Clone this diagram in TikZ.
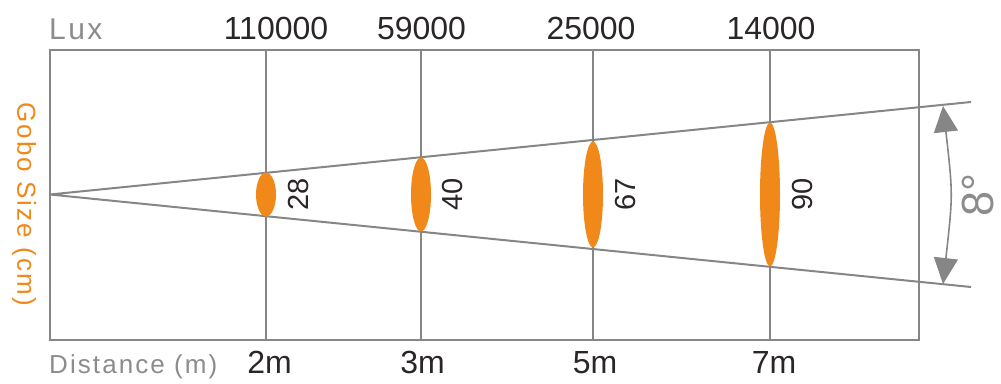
\documentclass[tikz,border=0pt]{standalone}
\usepackage{fontspec}
\setmainfont{Liberation Sans}
\newfontfamily\trackfont[LetterSpace=8]{Liberation Sans}
\usetikzlibrary{arrows.meta,positioning,shapes.geometric}
\definecolor{gridgray}{RGB}{134,134,134}
\definecolor{labelgray}{RGB}{140,140,140}
\definecolor{numdark}{RGB}{42,37,38}
\definecolor{goboorange}{RGB}{240,137,26}
\newcommand{\fsz}[1]{\fontsize{#1}{#1}\selectfont}

\begin{document}
\begin{tikzpicture}[x=1pt,y=-1pt,
    every node/.style={inner sep=0pt},
    gridline/.style={gridgray,line width=2pt},
    gobo/.style={ellipse,fill=goboorange,minimum width=20pt},
    luxnum/.style={text=numdark,font=\fsz{32},anchor=base},
    distnum/.style={text=numdark,font=\fsz{32},anchor=base},
    sizenum/.style={text=numdark,font=\fsz{29},rotate=90},
    axislbl/.style={text=labelgray,font=\trackfont\fsz{26}}]
  \useasboundingbox (0,0) rectangle (1001,383);
  % frame
  \draw[gridline] (50,50) rectangle (919,340);
  % distance columns
  \foreach \n/\x/\h/\lux/\lx/\dist/\dx/\sz/\sx in
      {1/266/22/110000/276/2m/269.5/28/298.5,
       2/421/37/59000/421.5/3m/422.5/40/453,
       3/593/53/25000/591/5m/595/67/626,
       4/770/72/14000/771/7m/774/90/803} {
    \draw[gridline] (\x,50) -- (\x,340);
    \node[luxnum] (lux\n) at (\lx,39) {\lux};
    \node[distnum] (dist\n) at (\dx,373) {\dist};
  }
  % beam
  \coordinate (apex) at (50,194.5);
  \coordinate (beamup) at (971,102);
  \coordinate (beamlo) at (971,287);
  \draw[gridline] (beamup) -- (apex) -- (beamlo);
  % gobo spots
  \foreach \n/\x/\h/\sz/\sx in
      {1/266/22/28/298.5, 2/421/37/40/453, 3/593/53/67/626, 4/770/72/90/803} {
    \node[gobo,minimum height={2*\h}] (gobo\n) at (\x,194.5) {};
    \node[sizenum] (size\n) at (\sx,194.5) {\sz};
  }
  % beam angle
  \coordinate (arctop) at (943,106);
  \coordinate (arcbot) at (943,284);
  \draw[gridline,line width=1.6pt,{Triangle[length=26pt,width=24pt]}-{Triangle[length=26pt,width=24pt]}]
    (arctop) .. controls (953,194.5) .. (arcbot);
  \node[rotate=90,text=labelgray,font=\fsz{45}] (angle) at (978,195) {8°};
  % axis titles
  \node[axislbl,font=\trackfont\fsz{30},anchor=base west] (luxlbl) at (49,39) {Lux};
  \node[axislbl,anchor=base west] (distlbl) at (49,373) {Distance (m)};
  \node[axislbl,text=goboorange,rotate=-90] (gobolbl) at (24,204) {Gobo Size (cm)};
\end{tikzpicture}
\end{document}
